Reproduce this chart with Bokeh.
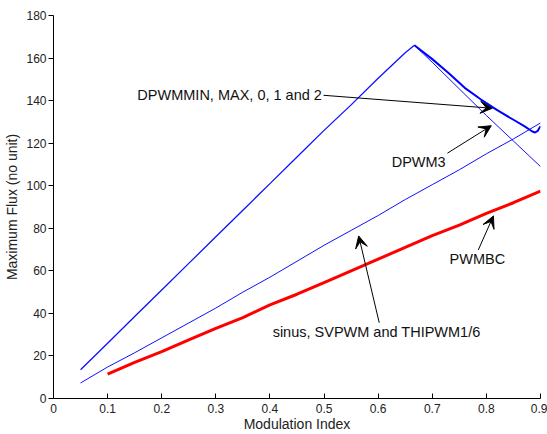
from bokeh.plotting import figure
from bokeh.models import Range1d, FixedTicker, Arrow, VeeHead, Label
from bokeh.embed import file_html
from bokeh.resources import INLINE

# Rising branch shared by the discontinuous PWM strategies
m_rise = [0.05, 0.10, 0.15, 0.20, 0.25, 0.30, 0.35, 0.40, 0.45, 0.50, 0.55, 0.60, 0.65, 0.667]
flux_rise = [13.5, 26.0, 38.5, 51.0, 63.5, 76.0, 88.5, 101.0, 113.5, 126.0, 138.0, 150.5, 162.5, 166.0]

# Falling branch: DPWM3
m_dpwm3 = [0.667, 0.70, 0.75, 0.80, 0.85, 0.90]
flux_dpwm3 = [166.0, 158.0, 145.5, 133.0, 121.0, 109.0]

# Falling branch: DPWMMIN, MAX, 0, 1 and 2
m_dpwm = [0.667, 0.70, 0.73, 0.76, 0.79, 0.82, 0.85, 0.87, 0.885, 0.89, 0.895, 0.90]
flux_dpwm = [166.0, 159.5, 153.0, 146.0, 140.5, 135.5, 131.0, 128.0, 125.5, 125.0, 125.8, 128.0]

# sinus, SVPWM and THIPWM1/6
m_sin = [0.05, 0.10, 0.15, 0.20, 0.25, 0.30, 0.35, 0.40, 0.45, 0.50,
         0.55, 0.60, 0.65, 0.70, 0.75, 0.80, 0.85, 0.90]
flux_sin = [7.3, 14.8, 21.5, 28.5, 35.5, 42.5, 50.0, 57.0, 64.5, 72.0,
            79.0, 86.0, 93.5, 100.5, 107.5, 115.0, 122.0, 129.5]

# PWMBC
m_pwmbc = [0.10, 0.15, 0.20, 0.25, 0.30, 0.35, 0.40, 0.45, 0.50,
           0.55, 0.60, 0.65, 0.70, 0.75, 0.80, 0.85, 0.90]
flux_pwmbc = [11.5, 17.0, 22.0, 27.5, 33.0, 38.0, 44.0, 49.0, 54.5,
              60.0, 65.5, 71.0, 76.5, 81.5, 87.0, 92.0, 97.5]

x_ticks = [0, 0.1, 0.2, 0.3, 0.4, 0.5, 0.6, 0.7, 0.8, 0.9]
x_tick_labels = ["0", "0.1", "0.2", "0.3", "0.4", "0.5", "0.6", "0.7", "0.8", "0.9"]
y_ticks = [0, 20, 40, 60, 80, 100, 120, 140, 160, 180]

# Annotations: text, text anchor, arrow start, arrow tip
notes = [
    ("DPWMMIN, MAX, 0, 1 and 2", (0.155, 142.5), (0.499, 142.5), (0.811, 136.4)),
    ("DPWM3", (0.625, 111.1), (0.728, 115.3), (0.809, 128.2)),
    ("PWMBC", (0.732, 65.6), (0.785, 69.8), (0.813, 85.8)),
    ("sinus, SVPWM and THIPWM1/6", (0.405, 31.4), (0.602, 35.6), (0.564, 76.4)),
]

FONT = "Liberation Sans"

p = figure(width=547, height=434, output_backend="svg", toolbar_location=None,
           x_range=Range1d(0, 0.9), y_range=Range1d(0, 180),
           min_border_left=53, min_border_right=7, min_border_top=15,
           min_border_bottom=35)
p.outline_line_color = None
p.xgrid.visible = False
p.ygrid.visible = False
p.background_fill_color = "white"
p.border_fill_color = "white"

p.line(m_rise, flux_rise, color="#1010ff", line_width=1.3)
p.line(m_dpwm3, flux_dpwm3, color="#1010ff", line_width=1.0)
p.line(m_dpwm, flux_dpwm, color="#0000ff", line_width=2.0)
p.line(m_sin, flux_sin, color="#1010ff", line_width=1.0)
p.line(m_pwmbc, flux_pwmbc, color="#ff0000", line_width=3.0)

for text, (tx, ty), (x0, y0), (x1, y1) in notes:
    p.add_layout(Label(x=tx, y=ty, text=text, text_font=FONT,
                       text_font_size="14.5px", text_baseline="middle",
                       text_align="left", text_color="#111111"))
    p.add_layout(Arrow(x_start=x0, y_start=y0, x_end=x1, y_end=y1,
                       line_color="black", line_width=1,
                       end=VeeHead(size=12, fill_color="black",
                                   line_color="black", line_width=1)))

xa = p.xaxis[0]
xa.ticker = FixedTicker(ticks=x_ticks)
xa.major_label_overrides = {t: s for t, s in zip(x_ticks, x_tick_labels)}
xa.minor_tick_line_color = None
xa.major_tick_in = 5
xa.major_tick_out = 0
xa.major_label_standoff = 5
xa.axis_label = "Modulation Index"
xa.axis_label_standoff = 0

ya = p.yaxis[0]
ya.ticker = FixedTicker(ticks=y_ticks)
ya.minor_tick_line_color = None
ya.major_tick_in = 0
ya.major_tick_out = 5
ya.major_label_standoff = 2
ya.axis_label = "Maximum Flux (no unit)"
ya.axis_label_standoff = 3

for ax in (xa, ya):
    ax.axis_line_color = "black"
    ax.major_tick_line_color = "black"
    ax.major_label_text_font = FONT
    ax.major_label_text_font_size = "12px"
    ax.major_label_text_color = "#222222"
    ax.axis_label_text_font = FONT
    ax.axis_label_text_font_size = "14px"
    ax.axis_label_text_font_style = "normal"
    ax.axis_label_text_color = "#222222"

open("out.html", "w").write(file_html(p, INLINE))
